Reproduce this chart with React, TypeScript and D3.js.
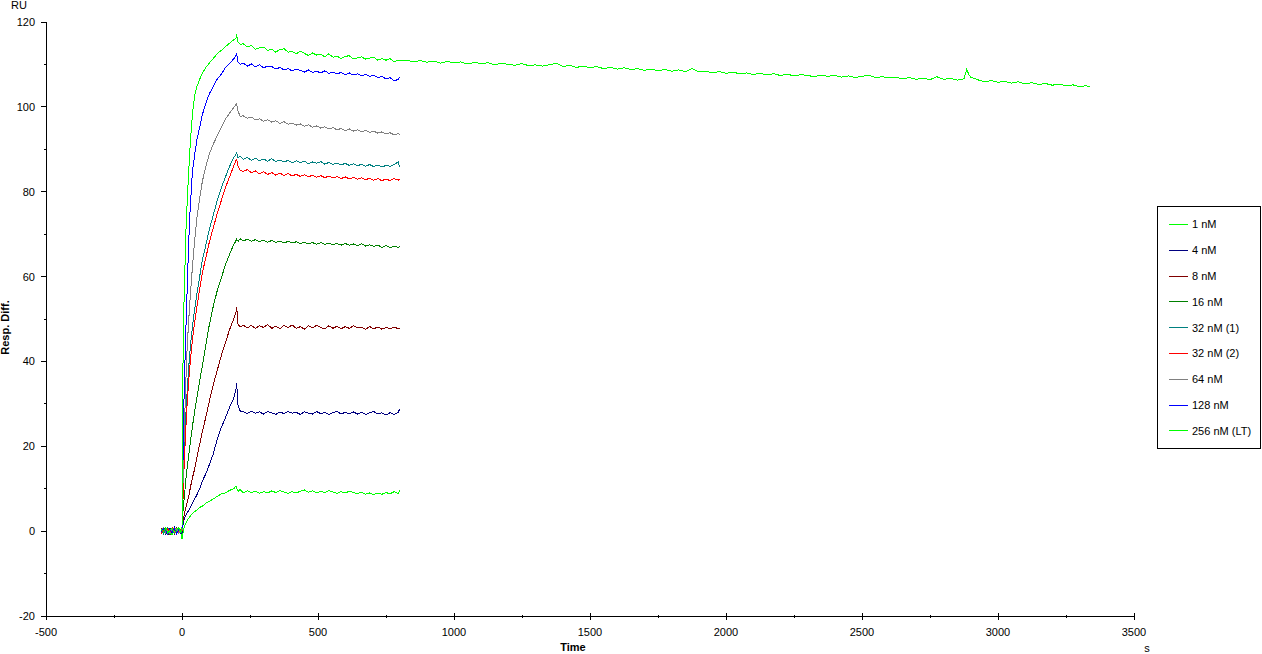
import React from "react";
import * as d3 from "d3";

// ---- time grids (s) ----
const BASE_T = [-76, -68, -60, -52, -44, -36, -28, -20, -12, -4];
const ASSOC_T = [0, 2, 4, 7, 10, 14, 18, 24, 30, 38, 46, 55, 65, 75, 88, 100, 115, 130, 145, 160, 175, 190, 198, 201];
const DISS_T = [206, 214, 225, 240, 255, 270, 285, 300, 315, 330, 345, 360, 375, 390, 405, 420, 435, 450, 465, 480, 495, 510, 525, 540, 555, 570, 585, 600, 615, 630, 645, 660, 675, 690, 705, 720, 735, 750, 765, 780, 795, 800];
const EXT_T = [825, 850, 875, 900, 925, 950, 975, 1000, 1025, 1050, 1075, 1100, 1125, 1150, 1175, 1200, 1225, 1250, 1275, 1300, 1325, 1350, 1375, 1400, 1425, 1450, 1475, 1500, 1525, 1550, 1575, 1600, 1625, 1650, 1675, 1700, 1725, 1750, 1775, 1800, 1825, 1850, 1875, 1900, 1925, 1950, 1975, 2000, 2025, 2050, 2075, 2100, 2125, 2150, 2175, 2200, 2225, 2250, 2275, 2300, 2325, 2350, 2375, 2400, 2425, 2450, 2475, 2500, 2525, 2550, 2575, 2600, 2625, 2650, 2675, 2700, 2725, 2750, 2775, 2800, 2825, 2850, 2875, 2885, 2893, 2900, 2925, 2950, 2975, 3000, 3025, 3050, 3075, 3100, 3125, 3150, 3175, 3200, 3225, 3250, 3275, 3300, 3325, 3340];

// ---- response values (RU) ----
const R_1NM = [
  0.4, -0.6, 0.8, -0.3, 0.5, -0.9, 0.2, 0.7, -0.5, 0.3,
  -1.8, -1.2, -0.3, 0.6, 1.2, 1.8, 2.4, 3.0, 3.5, 4.1, 4.6, 5.0, 5.6, 5.9, 6.6, 7.0, 7.6, 8.2, 8.8, 9.0, 9.6, 10.0, 10.6, 10.2,
  9.4, 9.8, 9.0, 9.5, 9.1, 9.4, 8.9, 9.3, 9.0, 9.5, 9.1, 9.6, 9.2, 8.9, 9.3, 9.0, 9.4, 9.7, 9.2, 9.5, 9.0, 9.4, 9.1, 9.6, 9.2, 8.9, 9.3, 9.0, 9.4, 9.1, 8.8, 9.2, 8.7, 9.0, 8.6, 9.0, 8.7, 9.1, 8.8, 9.3, 8.9, 9.6,
];
const R_4NM = [
  -0.3, 0.5, -0.8, 0.2, 0.6, -0.4, 0.9, -0.2, 0.4, -0.7,
  -0.5, 0.5, 1.5, 2.5, 3.2, 3.8, 4.2, 4.8, 5.5, 6.5, 7.5, 8.6, 10.0, 11.8, 13.6, 15.6, 18.2, 21.8, 24.5, 26.8, 29.2, 31.3, 33.2, 34.8,
  29.6, 28.3, 28.2, 27.7, 28.3, 27.8, 28.1, 27.6, 28.2, 27.9, 27.5, 28.1, 27.7, 28.2, 27.8, 28.0, 27.5, 28.1, 27.8, 27.6, 28.2, 27.7, 28.0, 27.5, 27.9, 28.2, 27.6, 28.0, 27.7, 28.1, 27.6, 28.0, 27.5, 27.9, 28.2, 27.6, 27.9, 27.4, 27.9, 27.5, 28.0, 28.8,
];
const R_8NM = [
  0.6, -0.4, 0.3, -0.9, 0.5, 0.1, -0.6, 0.8, -0.2, 0.4,
  0, 1.5, 2.5, 3.5, 4.5, 5.5, 6.5, 8, 10, 12.5, 14.5, 17.5, 20.5, 23.5, 27, 30.5, 34.5, 38, 41.5, 44.5, 47.5, 50, 51.5, 52.8,
  48.8, 48.1, 48.6, 47.9, 48.5, 47.8, 48.4, 48.0, 48.7, 47.8, 48.3, 47.7, 48.5, 48.0, 48.6, 47.8, 48.2, 47.6, 48.4, 47.9, 48.5, 48.0, 47.7, 48.4, 47.8, 48.3, 47.7, 48.2, 47.8, 48.4, 47.9, 48.1, 47.6, 48.2, 47.7, 48.1, 47.6, 48.0, 47.7, 48.1, 47.7, 47.9,
];
const R_16NM = [
  -0.5, 0.3, 0.7, -0.2, -0.8, 0.4, 0.1, -0.4, 0.6, -0.1,
  0, 2.5, 5, 7, 9, 12, 14.5, 17.5, 20.5, 24.5, 28, 31.5, 35.5, 39, 44, 48.5, 53, 56.8, 59.8, 62.8, 65.3, 67.5, 68.4, 68.8,
  68.3, 68.9, 68.4, 68.8, 68.3, 68.7, 68.2, 68.6, 68.1, 68.5, 68.0, 68.4, 67.9, 68.3, 67.9, 68.2, 67.8, 68.1, 67.7, 68.0, 67.6, 68.0, 67.6, 67.9, 67.5, 67.8, 67.4, 67.8, 67.4, 67.7, 67.3, 67.7, 67.2, 67.5, 67.1, 67.4, 66.9, 67.3, 66.8, 67.2, 66.9, 67.1,
];
const R_32NM_1 = [
  0.2, -0.7, 0.5, 0.9, -0.3, 0.4, -0.5, 0.1, 0.7, -0.4,
  0, 5, 10, 16, 21, 27, 32, 38, 43, 48, 52, 56, 60, 64, 67.5, 71, 74.5, 78, 81, 83.5, 86, 88, 88.8, 89.2,
  88.0, 88.4, 87.6, 88.1, 87.4, 87.9, 87.3, 87.7, 87.2, 87.8, 87.1, 87.5, 87.0, 87.4, 86.8, 87.3, 86.9, 87.2, 86.6, 87.0, 86.7, 87.1, 86.5, 86.9, 86.4, 86.8, 86.3, 86.7, 86.2, 86.6, 86.1, 86.5, 86.0, 86.4, 85.9, 86.3, 85.8, 86.2, 86.0, 86.4, 87.0, 85.9,
];
const R_32NM_2 = [
  -0.6, 0.4, -0.1, 0.6, -0.5, 0.8, 0.3, -0.7, 0.2, 0.5,
  0, 4, 8, 14, 18.5, 24, 29, 35, 39.5, 45, 49, 53, 57, 61, 64.5, 68, 71.5, 75, 78, 81, 83.5, 86, 87.3, 87.6,
  86.0, 85.0, 84.8, 85.2, 84.5, 84.9, 84.2, 84.7, 84.1, 84.5, 83.9, 84.4, 83.8, 84.3, 83.7, 84.1, 83.6, 84.0, 83.5, 83.9, 83.4, 83.8, 83.3, 83.7, 83.2, 83.6, 83.1, 83.5, 83.0, 83.4, 82.9, 83.3, 82.8, 83.2, 82.7, 83.1, 82.6, 83.0, 82.6, 83.1, 82.7, 83.0,
];
const R_64NM = [
  0.3, 0.8, -0.4, 0.1, -0.7, 0.5, -0.2, 0.6, -0.5, 0.2,
  0, 6, 12, 20, 27, 35, 42, 49, 55, 62, 68, 74, 78.5, 82.5, 86, 88.8, 91.2, 93.3, 95.2, 97.2, 98.5, 99.8, 100.5, 100.7,
  99.0, 97.7, 97.9, 97.3, 97.6, 96.9, 97.2, 96.6, 97.0, 96.4, 96.7, 96.1, 96.5, 95.9, 96.2, 95.7, 96.0, 95.4, 95.8, 95.2, 95.5, 95.0, 95.3, 94.8, 95.1, 94.6, 94.9, 94.4, 94.8, 94.3, 94.6, 94.1, 94.5, 94.0, 94.3, 93.8, 94.1, 93.6, 93.9, 93.4, 93.7, 93.5,
];
const R_128NM = [
  -0.2, 0.6, 0.1, -0.8, 0.4, -0.3, 0.7, -0.6, 0.3, 0.0,
  0.3, 9, 18, 30, 38, 47, 55, 67, 76, 84.5, 88.5, 92.3, 95.2, 98.2, 100.9, 103.0, 104.8, 106.6, 107.7, 109.3, 110.2, 111.3, 112.0, 112.4,
  110.6, 110.0, 110.3, 109.6, 110.1, 109.4, 109.9, 109.2, 109.6, 109.5, 108.9, 109.3, 108.7, 109.0, 108.5, 108.9, 108.6, 108.2, 108.7, 108.1, 108.4, 108.0, 108.5, 107.9, 108.2, 107.8, 108.1, 107.6, 108.0, 107.5, 107.8, 107.3, 107.7, 107.2, 107.5, 106.9, 107.2, 106.6, 106.9, 106.1, 106.5, 107.0,
];
const R_256NM = [
  0.5, -0.2, 0.9, -0.5, 0.3, 0.7, -0.4, 0.2, 0.8, -0.3,
  0.5, 22, 42, 53, 60, 70, 76, 84, 91, 98, 102.5, 104.8, 106.5, 108, 109.3, 110.3, 111.4, 112.6, 113.3, 114.2, 115, 115.8, 116.2, 116.8,
  115.3, 114.7, 114.9, 114.1, 114.5, 113.6, 113.9, 114.1, 113.3, 113.6, 112.9, 113.5, 113.7, 112.9, 113.1, 112.5, 113.1, 112.6, 112.1, 112.7, 112.2, 112.4, 111.8, 112.5, 111.7, 111.95, 111.4, 111.9, 112.05, 111.3, 111.55, 111.8, 111.25, 111.5, 111.75, 111.0, 111.4, 111.0, 111.35, 110.6, 111.05, 110.9,
];
const R_256NM_EXT = [
  111.0, 110.6, 110.9, 110.5, 110.8, 110.3, 110.7, 110.4, 110.6, 110.1, 110.5, 110.2, 110.4, 109.9, 110.3, 110.0, 109.8, 110.2, 109.7, 109.9, 109.6, 109.9, 110.3, 109.5, 109.8, 109.3, 109.6, 109.2, 109.5, 109.0, 109.3, 108.9, 109.2, 108.8, 109.0, 108.6, 108.9, 108.5, 108.8, 108.4, 108.7, 108.3, 109.0, 108.2, 108.4, 108.0, 108.3, 107.9, 108.2, 107.8, 108.0, 107.6, 107.9, 107.5, 107.8, 107.4, 107.7, 107.3, 107.6, 107.4, 107.1, 107.5, 107.2, 107.4, 107.0, 107.3, 106.9, 107.2, 107.5, 106.9, 107.1, 106.8, 107.0, 106.6, 106.9, 106.5, 106.8, 106.4, 107.1, 106.5, 106.7, 106.3, 106.6, 108.8, 107.6, 107.0, 106.4, 105.9, 106.2, 105.8, 106.0, 105.6, 105.9, 105.4, 105.7, 105.3, 105.5, 105.1, 105.4, 104.9, 105.2, 104.7, 105.0, 104.6,
];

const SERIES_NAMES = ["1 nM", "4 nM", "8 nM", "16 nM", "32 nM (1)", "32 nM (2)", "64 nM", "128 nM", "256 nM (LT)"];
const SERIES_COLORS = ["#00ff00", "#000080", "#800000", "#008000", "#008080", "#ff0000", "#808080", "#0000ff", "#00ff00"];
const SERIES_VALUES = [R_1NM, R_4NM, R_8NM, R_16NM, R_32NM_1, R_32NM_2, R_64NM, R_128NM, R_256NM];

const X_TICKS = [-500, 0, 500, 1000, 1500, 2000, 2500, 3000, 3500];
const X_MINOR = [-250, 250, 750, 1250, 1750, 2250, 2750, 3250];
const Y_TICKS = [-20, 0, 20, 40, 60, 80, 100, 120];
const Y_MINOR = [-10, 10, 30, 50, 70, 90, 110];

const W = 1262;
const H = 654;
const FONT = "'Liberation Sans', Arial, sans-serif";

export default function App() {
  const x = d3.scaleLinear().domain([-500, 3500]).range([46, 1134]);
  const y = d3.scaleLinear().domain([-20, 120]).range([616, 22]);
  const TIMES = [...BASE_T, ...ASSOC_T, ...DISS_T];

  const line = d3
    .line<[number, number]>()
    .x((d) => x(d[0]))
    .y((d) => y(d[1]));

  const paths = SERIES_VALUES.map((vals, si) => {
    const pts: [number, number][] = [];
    const n = Math.min(vals.length, TIMES.length);
    for (let i = 0; i < n; i++) pts.push([TIMES[i], vals[i]]);
    if (si === SERIES_VALUES.length - 1) {
      const m = Math.min(EXT_T.length, R_256NM_EXT.length);
      for (let i = 0; i < m; i++) pts.push([EXT_T[i], R_256NM_EXT[i]]);
    }
    return line(pts) || "";
  });

  const axisY0 = y(-20);
  const axisX0 = x(-500);

  const legX = 1157.5;
  const legY = 206.5;
  const legRow0 = 224.5;
  const legStep = 25.8;

  return (
    <div style={{ position: "absolute", left: 0, top: 0 }}>
      <svg width={W} height={H} style={{ display: "block", background: "#fff" }} fontFamily={FONT}>
        <rect x={0} y={0} width={W} height={H} fill="#fff" />
        {/* data */}
        <g fill="none" strokeWidth={1} shapeRendering="crispEdges">
          {paths.map((p, i) => (
            <path key={i} d={p} stroke={SERIES_COLORS[i]} />
          ))}
        </g>
        {/* axes */}
        <g stroke="#000" strokeWidth={1} shapeRendering="crispEdges">
          <line x1={axisX0} x2={axisX0} y1={y(120)} y2={axisY0} />
          <line x1={axisX0} x2={x(3500)} y1={axisY0} y2={axisY0} />
          {Y_TICKS.map((t) => (
            <line key={"yt" + t} x1={axisX0 - 5} x2={axisX0} y1={y(t)} y2={y(t)} />
          ))}
          {Y_MINOR.map((t) => (
            <line key={"ym" + t} x1={axisX0 - 2} x2={axisX0} y1={y(t)} y2={y(t)} />
          ))}
          {X_TICKS.map((t) => (
            <line key={"xt" + t} x1={x(t)} x2={x(t)} y1={axisY0 - 3} y2={axisY0 + 4} />
          ))}
          {X_MINOR.map((t) => (
            <line key={"xm" + t} x1={x(t)} x2={x(t)} y1={axisY0 - 1} y2={axisY0 + 2} />
          ))}
        </g>
        <g fontSize={11} fill="#000">
          {Y_TICKS.map((t) => (
            <text key={"yl" + t} x={35} y={y(t)} dy="0.36em" textAnchor="end">
              {t}
            </text>
          ))}
          {X_TICKS.map((t) => (
            <text key={"xl" + t} x={x(t)} y={636} textAnchor="middle">
              {t}
            </text>
          ))}
          <text x={11} y={9}>RU</text>
          <text x={1147} y={652} textAnchor="middle">s</text>
          <text x={573} y={651} textAnchor="middle" fontWeight="bold">Time</text>
          <text transform="translate(8.5,327.5) rotate(-90)" textAnchor="middle" fontWeight="bold">
            Resp. Diff.
          </text>
        </g>
        {/* legend */}
        <g>
          <rect x={legX} y={legY} width={103} height={241.5} fill="#fff" stroke="#000" strokeWidth={1} shapeRendering="crispEdges" />
          {SERIES_NAMES.map((name, i) => {
            const ry = legRow0 + i * legStep;
            return (
              <g key={name}>
                <line x1={1169} x2={1188} y1={ry} y2={ry} stroke={SERIES_COLORS[i]} strokeWidth={1} shapeRendering="crispEdges" />
                <text x={1192} y={ry} dy="0.36em" fontSize={11} fill="#000">
                  {name}
                </text>
              </g>
            );
          })}
        </g>
      </svg>
    </div>
  );
}
